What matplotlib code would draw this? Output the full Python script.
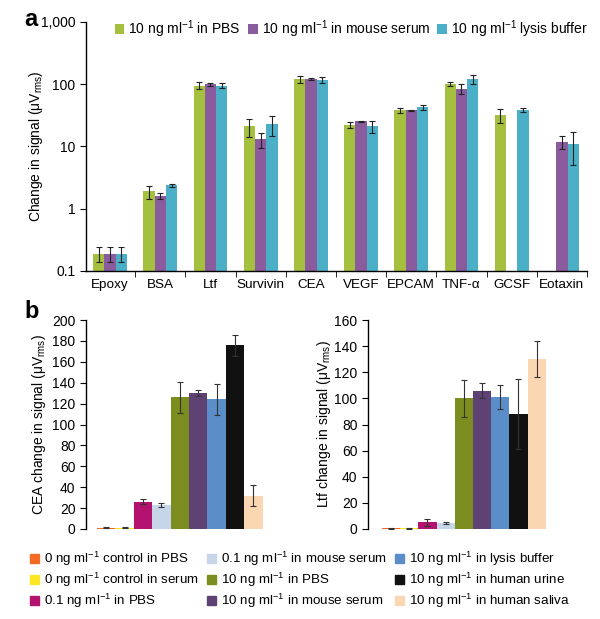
import numpy as np
import matplotlib
matplotlib.use("Agg")
import matplotlib.pyplot as plt
from matplotlib.patches import Patch

plt.rcParams['font.family'] = ['Liberation Sans', 'DejaVu Sans']
plt.rcParams['mathtext.fontset'] = 'custom'
plt.rcParams['mathtext.rm'] = 'Liberation Sans'
plt.rcParams['mathtext.it'] = 'Liberation Sans:italic'
plt.rcParams['axes.linewidth'] = 1.0

# ---- panel a data ----
proteins = ["Epoxy", "BSA", "Ltf", "Survivin", "CEA", "VEGF", "EPCAM", "TNF-α", "GCSF", "Eotaxin"]
a_series = [r"10 ng ml$^{-1}$ in PBS", r"10 ng ml$^{-1}$ in mouse serum", r"10 ng ml$^{-1}$ lysis buffer"]
a_colors = ["#a5bf3f", "#8a5c9e", "#4aafc7"]
pbs_val = [0.19, 1.9, 95, 21, 120, 22, 38, 100, 32, np.nan]
pbs_err = [0.05, 0.45, 12, 7, 14, 2.5, 3.5, 7, 8, np.nan]
serum_val = [0.19, 1.6, 100, 13, 122, 25.5, 38, 85, np.nan, 12]
serum_err = [0.05, 0.17, 5, 3.5, 3, 0.6, 1.2, 15, np.nan, 2.8]
lysis_val = [0.19, 2.4, 95, 23, 118, 21, 43, 122, 39, 11]
lysis_err = [0.05, 0.14, 8, 8, 12, 4.5, 4, 20, 3, 6]

# ---- panel b data ----
b_labels = [r"0 ng ml$^{-1}$ control in PBS", r"0 ng ml$^{-1}$ control in serum", r"0.1 ng ml$^{-1}$ in PBS",
            r"0.1 ng ml$^{-1}$ in mouse serum", r"10 ng ml$^{-1}$ in PBS", r"10 ng ml$^{-1}$ in mouse serum",
            r"10 ng ml$^{-1}$ in lysis buffer", r"10 ng ml$^{-1}$ in human urine", r"10 ng ml$^{-1}$ in human saliva"]
b_colors = ["#f26a24", "#fde725", "#b3126f", "#c6d5e8", "#7b8d1f", "#5f4274",
            "#5b8dc9", "#111111", "#fbd6b3"]
cea_val = [1, 1, 26, 23, 126, 130, 124, 176, 32]
cea_err = [0.5, 0.5, 2.5, 2, 15, 3, 15, 10, 10]
ltf_val = [0.6, 0.6, 5, 4.5, 100, 106, 101, 88, 130]
ltf_err = [0.3, 0.3, 2.5, 1, 14, 6, 9, 27, 14]

fig = plt.figure(figsize=(6.0, 6.19), dpi=100)

# panel a
ax = fig.add_axes([0.1433, 0.5622, 0.835, 0.4023])
x = np.arange(len(proteins))
w = 0.225
for k, (vals, errs) in enumerate([(pbs_val, pbs_err), (serum_val, serum_err), (lysis_val, lysis_err)]):
    ax.bar(x + (k - 1) * w, vals, w, color=a_colors[k], label=a_series[k], zorder=2)
    ax.errorbar(x + (k - 1) * w, vals, yerr=errs, fmt='none', ecolor='#222222',
                elinewidth=0.8, capsize=2, capthick=0.8, zorder=3)
ax.set_yscale('log')
ax.set_ylim(0.1, 1000)
ax.set_xlim(-0.48, 9.5)
ax.set_yticks([0.1, 1, 10, 100, 1000])
ax.set_yticklabels(["0.1", "1", "10", "100", "1,000"])
ax.yaxis.set_minor_locator(matplotlib.ticker.NullLocator())
ax.set_xticks(x)
ax.set_xticklabels(proteins)
ax.set_xticks(x + 0.5, minor=True)
ax.tick_params(axis='x', which='major', length=0, labelsize=9.7, pad=6)
ax.tick_params(axis='x', which='minor', length=4, direction='out')
ax.tick_params(axis='y', labelsize=10, length=4)
ax.spines['top'].set_visible(False)
ax.spines['right'].set_visible(False)
ax.set_ylabel("Change in signal (μV$_{\\rm rms}$)", fontsize=10)
ax.yaxis.set_label_coords(-0.082, 0.5)
ax.legend(loc='upper left', bbox_to_anchor=(0.032, 1.064), ncol=3, frameon=False, fontsize=10,
          handlelength=0.7, handleheight=0.7, handletextpad=0.3, columnspacing=0.5)
fig.text(0.04, 0.969, "a", fontsize=17, fontweight='bold', va='center', ha='left')

# panel b
def draw_b(rect, vals, errs, ymax, xlim, ylabel, labelx):
    axb = fig.add_axes(rect)
    xb = np.arange(len(vals))
    axb.bar(xb, vals, 1.0, color=b_colors, zorder=2)
    axb.errorbar(xb, vals, yerr=errs, fmt='none', ecolor='#333333', elinewidth=0.8,
                 capsize=2, capthick=0.8, zorder=3)
    axb.set_ylim(0, ymax)
    axb.set_yticks(np.arange(0, ymax + 1, 20))
    axb.set_xlim(*xlim)
    axb.set_xticks([])
    for s in ['top', 'right', 'bottom']:
        axb.spines[s].set_visible(False)
    axb.tick_params(axis='y', labelsize=10, length=4)
    axb.set_ylabel(ylabel, fontsize=10)
    axb.yaxis.set_label_coords(labelx, 0.5)
    return axb

draw_b([0.1433, 0.1454, 0.2975, 0.3376], cea_val, cea_err, 200, (-1.1, 8.6),
       "CEA change in signal (μV$_{\\rm rms}$)", -0.213)
draw_b([0.6133, 0.1454, 0.2993, 0.3376], ltf_val, ltf_err, 160, (-1.27, 8.6),
       "Ltf change in signal (μV$_{\\rm rms}$)", -0.195)
fig.text(0.04, 0.496, "b", fontsize=17, fontweight='bold', va='center', ha='left')

handles = [Patch(color=c) for c in b_colors]
fig.legend(handles, b_labels, loc='upper left', bbox_to_anchor=(0.03, 0.131), ncol=3,
           frameon=False, fontsize=9.6, handlelength=0.7, handleheight=0.7,
           handletextpad=0.35, columnspacing=0.6, labelspacing=0.2)

fig.savefig("out.png", dpi=100)
